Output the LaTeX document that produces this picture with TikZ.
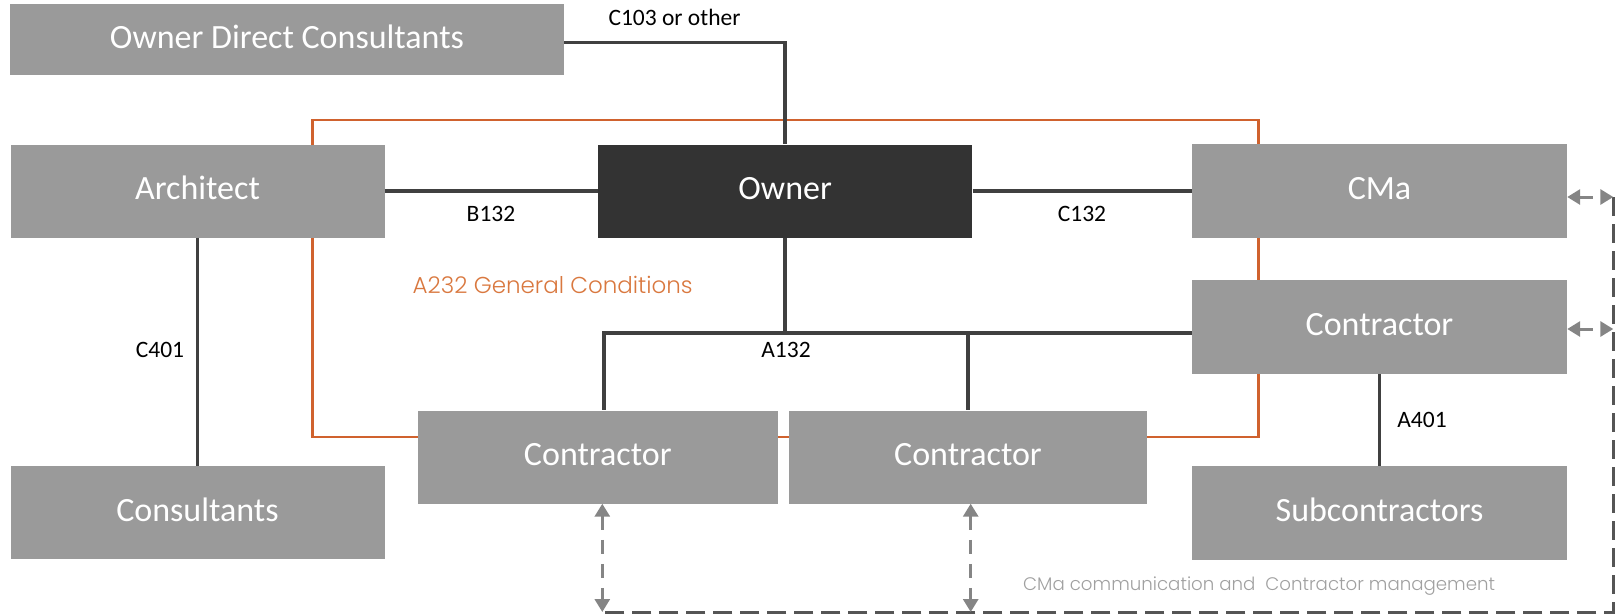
\documentclass[tikz,border=0pt]{standalone}
\usepackage{fontspec}
\setmainfont{Carlito}
\newfontfamily\geo{Poppins Light}
\usetikzlibrary{arrows.meta}
\definecolor{boxgray}{HTML}{9A9A9A}
\definecolor{ownerdark}{HTML}{333333}
\definecolor{linedark}{HTML}{404040}
\definecolor{orangeline}{HTML}{D0622E}
\definecolor{orangetext}{HTML}{D9783F}
\definecolor{arrowgray}{HTML}{858585}
\definecolor{dashdark}{HTML}{555555}
\definecolor{softgray}{HTML}{A0A0A0}
\tikzset{
  box/.style={fill=boxgray, text=white, inner sep=0pt, text height=17.4pt, text depth=0pt, font=\fontsize{34}{40}\selectfont},
  ownerbox/.style={box, fill=ownerdark},
  lbl/.style={font=\fontsize{23.5}{28}\selectfont, text=black, inner sep=0pt},
  link/.style={draw=linedark, line width=3.5pt},
  frame/.style={draw=orangeline, line width=2.5pt},
  commarrow/.style={draw=arrowgray, line width=3pt, dash pattern=on 14pt off 10pt,
    {Triangle[length=13pt,width=15pt]}-{Triangle[length=13pt,width=15pt]}},
  commline/.style={draw=dashdark, line width=3pt, dash pattern=on 19pt off 8pt},
}
\begin{document}
\begin{tikzpicture}[x=1pt,y=-1pt]
\useasboundingbox (0,0) rectangle (1617,614);
% orange A232 frame (behind boxes)
\draw[frame] (312.5,120) rectangle (1258.3,437);
% boxes
\node[box, minimum width=554pt, minimum height=71pt] (odc) at (287,39.7) {Owner Direct Consultants};
\node[box, minimum width=374pt, minimum height=93pt] (arch) at (197.5,191) {Architect};
\node[ownerbox, minimum width=374.5pt, minimum height=93pt] (owner) at (785.2,191) {Owner};
\node[box, minimum width=375pt, minimum height=93.5pt] (cma) at (1379.5,191) {CMa};
\node[box, minimum width=375pt, minimum height=93.7pt] (con3) at (1379.5,327) {Contractor};
\node[box, minimum width=375pt, minimum height=93.7pt] (sub) at (1379.5,513) {Subcontractors};
\node[box, minimum width=374pt, minimum height=93pt] (cons) at (197.5,512.7) {Consultants};
\node[box, minimum width=360pt, minimum height=93pt] (con1) at (597.8,457) {Contractor};
\node[box, minimum width=358pt, minimum height=93pt] (con2) at (968,457) {Contractor};
% contract links
\draw[link] ([yshift=-3pt]odc.east) -| (owner.north);
\draw[link] (arch.east) -- (owner.west);
\draw[link] (owner.east) -- (cma.west);
\coordinate (j) at (604,333);
\draw[link] (owner.south) -- (owner.south |- j);
\draw[link] (j -| con3.west) -- (j) -- (j |- con1.north);
\draw[link] (j -| con2.north) -- (con2.north);
\draw[link] (arch.south) -- (cons.north);
\draw[link] (con3.south) -- (sub.north);
% labels
\node[lbl] (lc103) at (674.5,17.5) {C103 or other};
\node[lbl] (lb132) at (491,213.5) {B132};
\node[lbl] (lc132) at (1082,213.5) {C132};
\node[lbl] (la132) at (786,349.6) {A132};
\node[lbl] (lc401) at (160,349.6) {C401};
\node[lbl] (la401) at (1422,419.5) {A401};
\node[anchor=west, inner sep=0pt, text=orangetext, font=\geo\fontsize{23}{28}\selectfont] (a232) at (412.5,284.6) {A232 General Conditions};
\node[anchor=west, inner sep=0pt, text=softgray, font=\geo\fontsize{18.2}{22}\selectfont] (cmatext) at (1023,585.8) {CMa communication and\ \ Contractor management};
% CMa communication lines
\coordinate (br) at (1613.3,612);
\coordinate (bl) at (602.3,612);
\coordinate (tr) at ([yshift=-6pt]cma.east -| br);
\draw[commline] (tr) -- (br) -- (bl);
\draw[commarrow] ([yshift=-6pt]cma.east) -- (tr);
\draw[commarrow] ([yshift=-2pt]con3.east) -- ([yshift=-2pt]con3.east -| br);
\draw[commarrow] ([xshift=4.5pt]con1.south) -- ([xshift=4.5pt]con1.south |- br);
\draw[commarrow] ([xshift=2.7pt]con2.south) -- ([xshift=2.7pt]con2.south |- br);
\end{tikzpicture}
\end{document}
